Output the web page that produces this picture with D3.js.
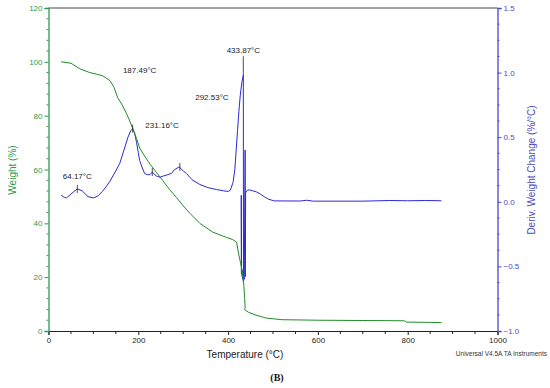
<!doctype html>
<html lang="en">
<head>
<meta charset="utf-8">
<title>TGA / DTG</title>
<script src="https://cdn.jsdelivr.net/npm/d3@7"></script>
<style>
  body { margin: 0; background: #fff; }
  svg text { font-family: "Liberation Sans", Arial, sans-serif; }
</style>
</head>
<body>
<script>
// weight curve (green), temperature in C and weight in %
var weightT = [28, 50, 70, 92, 110, 121, 137, 146, 154, 164, 174, 181, 188, 196, 203, 214, 226, 240, 254, 270, 285, 300, 315, 337, 366, 396, 410, 419, 423, 428, 432, 435, 437, 438, 436, 445, 460, 485, 520, 600, 700, 793, 796, 850, 875];
var weightVal = [100, 99.5, 97.4, 96, 95.3, 94.8, 93, 90.5, 86.7, 84, 80.7, 78, 75, 71.5, 68, 65, 62, 59, 56, 52.5, 49.6, 46.5, 43.7, 40, 36.7, 34.8, 34, 33, 29, 25, 22, 17, 12, 8.5, 8, 7, 6, 4.8, 4.2, 4.0, 3.9, 3.8, 3.3, 3.2, 3.1];

// derivative curve (blue), %/C
var derivT = [28, 35, 40, 50, 64, 75, 88, 100, 110, 120, 129, 137, 150, 159, 168, 177, 183, 187.5, 192, 196, 200, 203, 208, 214, 220, 226, 231, 240, 248, 256, 266, 274, 281, 291, 300, 307, 320, 337, 355, 374, 390, 400, 405, 411, 415, 418, 421, 424, 427, 429, 431, 433.9, 434.3, 429.5, 429.3, 430, 436, 438, 438.3, 439, 443, 448, 455, 463, 472, 481, 490, 503, 560, 575, 590, 700, 760, 800, 840, 875];
var derivVal = [0.05, 0.035, 0.03, 0.06, 0.10, 0.085, 0.04, 0.03, 0.045, 0.08, 0.12, 0.16, 0.24, 0.30, 0.40, 0.50, 0.55, 0.567, 0.53, 0.46, 0.38, 0.32, 0.27, 0.22, 0.21, 0.21, 0.23, 0.20, 0.19, 0.20, 0.21, 0.22, 0.25, 0.27, 0.24, 0.22, 0.17, 0.134, 0.11, 0.095, 0.085, 0.08, 0.09, 0.15, 0.25, 0.40, 0.55, 0.70, 0.82, 0.88, 0.93, 0.98, -0.62, -0.55, 0.05, -0.52, -0.6, 0.40, -0.58, 0.07, 0.09, 0.092, 0.085, 0.077, 0.06, 0.038, 0.02, 0.007, 0.006, 0.012, 0.005, 0.005, 0.01, 0.008, 0.01, 0.008];

// peak labels
var peakT = [64.17, 187.49, 231.16, 292.53, 433.87];
var peakText = ["64.17°C", "187.49°C", "231.16°C", "292.53°C", "433.87°C"];

var xTicks = [0, 200, 400, 600, 800, 1000];
var yLeftTicks = [0, 20, 40, 60, 80, 100, 120];
var yRightTicks = [-1.0, -0.5, 0.0, 0.5, 1.0, 1.5];

var W = 550, H = 388;
var green = "#2f9a4f", greenLine = "#228b2a";
var blue = "#4b4bc8", blueLine = "#2a2ad6";

var svg = d3.select("body").append("svg")
            .attr("width", W)
            .attr("height", H);

var x = d3.scaleLinear().domain([0, 1000]).range([48.5, 497.5]);
var yL = d3.scaleLinear().domain([0, 120]).range([331, 8]);
var yR = d3.scaleLinear().domain([-1, 1.5]).range([331, 8]);

// top border
svg.append("line")
   .attr("x1", x(0)).attr("x2", x(1000))
   .attr("y1", yL(120)).attr("y2", yL(120))
   .attr("stroke", "#444").attr("stroke-width", 1);

// bottom axis
var xAxis = d3.axisBottom(x).tickValues(xTicks).tickSize(4).tickPadding(2).tickFormat(d3.format("d"));
var gx = svg.append("g")
   .attr("transform", "translate(0," + yL(0) + ")")
   .call(xAxis);
gx.selectAll(".minor").data(d3.range(50, 1000, 50).filter(d => d % 200 != 0))
  .enter().append("line").attr("class", "minor")
  .attr("x1", d => x(d)).attr("x2", d => x(d))
  .attr("y1", 0).attr("y2", 3).attr("stroke", "#222");
gx.select(".domain").attr("stroke", "#222");
gx.selectAll(".tick line").attr("stroke", "#222");
gx.selectAll("text").attr("font-size", 8).attr("fill", "#222").attr("font-family", null);

// left axis
var yAxisL = d3.axisLeft(yL).tickValues(yLeftTicks).tickSize(4).tickPadding(2);
var gl = svg.append("g")
   .attr("transform", "translate(" + x(0) + ",0)")
   .call(yAxisL);
gl.selectAll(".minor").data(d3.range(4, 120, 4).filter(d => d % 20 != 0))
  .enter().append("line").attr("class", "minor")
  .attr("x1", -2).attr("x2", 0)
  .attr("y1", d => yL(d)).attr("y2", d => yL(d)).attr("stroke", green);
gl.select(".domain").attr("stroke", green).attr("stroke-width", 1.3);
gl.selectAll(".tick line").attr("stroke", green);
gl.selectAll("text").attr("font-size", 8).attr("fill", green).attr("font-family", null);

// right axis
var yAxisR = d3.axisRight(yR).tickValues(yRightTicks).tickSize(4).tickPadding(2).tickFormat(d3.format(".1f"));
var gr = svg.append("g")
   .attr("transform", "translate(" + x(1000) + ",0)")
   .call(yAxisR);
gr.selectAll(".minor").data(d3.range(-0.875, 1.5, 0.125).filter(d => Math.abs(d * 2 - Math.round(d * 2)) > 0.01))
  .enter().append("line").attr("class", "minor")
  .attr("x1", 0).attr("x2", 2)
  .attr("y1", d => yR(d)).attr("y2", d => yR(d)).attr("stroke", blue);
gr.select(".domain").attr("stroke", blue).attr("stroke-width", 1.3);
gr.selectAll(".tick line").attr("stroke", blue);
gr.selectAll("text").attr("font-size", 8).attr("fill", blue).attr("font-family", null);

// curves
var weightData = weightT.map((t, i) => [t, weightVal[i]]);
var derivData = derivT.map((t, i) => [t, derivVal[i]]);

svg.append("path")
   .datum(derivData)
   .attr("fill", "none")
   .attr("stroke", blueLine)
   .attr("stroke-width", 1)
   .attr("d", d3.line().x(d => x(d[0])).y(d => yR(d[1])));

svg.append("path")
   .datum(weightData)
   .attr("fill", "none")
   .attr("stroke", greenLine)
   .attr("stroke-width", 1)
   .attr("d", d3.line().x(d => x(d[0])).y(d => yL(d[1])));

// peak annotations: label spot given in data units (T, deriv)
var labelAt = [[64.17, 0.18], [203, 1.0], [253, 0.57], [364, 0.79], [434, 1.15]];
var markAt = [[64.17, 0.10], [187.49, 0.567], [231.16, 0.23], [292.53, 0.27], [433.87, 0.98]];

var ann = svg.append("g");
ann.selectAll("text").data(peakText).enter().append("text")
   .attr("x", (d, i) => x(labelAt[i][0]))
   .attr("y", (d, i) => yR(labelAt[i][1]))
   .attr("text-anchor", "middle")
   .attr("font-size", 8)
   .attr("fill", "#222")
   .text(d => d);

ann.selectAll("line.mark").data(peakT).enter().append("line")
   .attr("class", "mark")
   .attr("x1", d => x(d)).attr("x2", d => x(d))
   .attr("y1", (d, i) => i == 4 ? yR(labelAt[4][1]) + 3 : yR(markAt[i][1]) - 4)
   .attr("y2", (d, i) => i == 4 ? yR(markAt[4][1]) : yR(markAt[i][1]) + 4)
   .attr("stroke", "#222")
   .attr("stroke-width", 0.8);

// titles
svg.append("text")
   .attr("transform", "translate(16,170) rotate(-90)")
   .attr("text-anchor", "middle")
   .attr("font-size", 10)
   .attr("fill", green)
   .text("Weight (%)");

svg.append("text")
   .attr("transform", "translate(535,170) rotate(-90)")
   .attr("text-anchor", "middle")
   .attr("font-size", 10)
   .attr("fill", blue)
   .text("Deriv. Weight Change (%/°C)");

svg.append("text")
   .attr("x", 245).attr("y", 358)
   .attr("text-anchor", "middle")
   .attr("font-size", 10)
   .attr("fill", "#222")
   .text("Temperature (°C)");

svg.append("text")
   .attr("x", 547).attr("y", 356)
   .attr("text-anchor", "end")
   .attr("font-size", 6.5)
   .attr("fill", "#333")
   .text("Universal V4.5A TA Instruments");

svg.append("text")
   .attr("x", 277).attr("y", 381)
   .attr("text-anchor", "middle")
   .attr("font-size", 10)
   .attr("font-weight", "bold")
   .style("font-family", "'Liberation Serif', 'Times New Roman', serif")
   .attr("fill", "#111")
   .text("(B)");
</script>
</body>
</html>
